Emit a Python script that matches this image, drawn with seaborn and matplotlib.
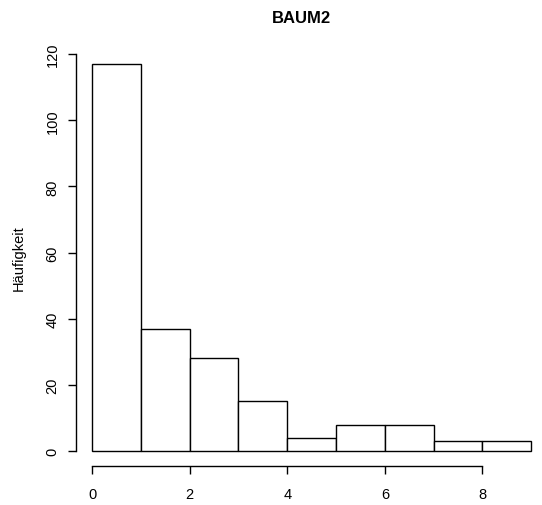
import numpy as np
import pandas as pd
import matplotlib
matplotlib.use("Agg")
import matplotlib.pyplot as plt
import seaborn as sns

# Histogram of BAUM2: bin edges and counts per bin
bin_edges = [0, 1, 2, 3, 4, 5, 6, 7, 8, 9]
counts = [117, 37, 28, 15, 4, 8, 8, 3, 3]
x_ticks = [0, 2, 4, 6, 8]
y_ticks = [0, 20, 40, 60, 80, 100, 120]

sns.set_style("white")
plt.rcParams["font.family"] = ["Liberation Sans", "DejaVu Sans"]
plt.rcParams["text.color"] = "black"
plt.rcParams["axes.labelcolor"] = "black"
plt.rcParams["xtick.color"] = "black"
plt.rcParams["ytick.color"] = "black"

df = pd.DataFrame({
    "mid": [(a + b) / 2 for a, b in zip(bin_edges[:-1], bin_edges[1:])],
    "n": counts,
})

fig = plt.figure(figsize=(5.42, 5.06), dpi=100)
ax = fig.add_axes([76 / 542, 1 - 467 / 506, 466 / 542, (467 - 49.5) / 506])

sns.histplot(data=df, x="mid", weights="n", bins=bin_edges, ax=ax,
             color="white", edgecolor="black", linewidth=1.0, alpha=1.0)

ax.set_xlim(-0.328, 9.22)
ax.set_ylim(-4.53, 121.7)

for side in ["top", "right"]:
    ax.spines[side].set_visible(False)
for side in ["left", "bottom"]:
    ax.spines[side].set_visible(True)
    ax.spines[side].set_color("black")
    ax.spines[side].set_linewidth(1.0)
ax.spines["left"].set_bounds(0, 120)
ax.spines["bottom"].set_bounds(0, 8)

ax.set_xticks(x_ticks)
ax.set_yticks(y_ticks)
ax.set_xticklabels([str(v) for v in x_ticks])
ax.set_yticklabels([str(v) for v in y_ticks], rotation=90, va="center")
ax.tick_params(axis="both", direction="out", length=5.8, width=1.0,
               color="black", labelcolor="black", labelsize=10.5,
               left=True, bottom=True)
ax.tick_params(axis="x", pad=9.5)
ax.tick_params(axis="y", pad=6)

ax.set_xlabel("")
ax.set_ylabel("Häufigkeit", fontsize=10.5, labelpad=14, color="black")
ax.set_title("BAUM2", fontsize=12, fontweight="bold", pad=19, color="black",
             x=0.483)

fig.savefig("out.png", dpi=100)
